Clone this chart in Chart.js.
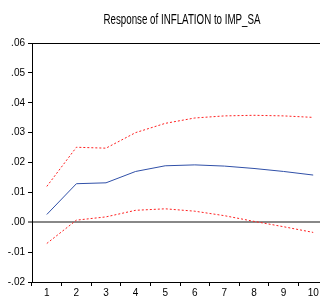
<!DOCTYPE html>
<html>
<head>
<meta charset="utf-8">
<script src="https://cdn.jsdelivr.net/npm/chart.js@4.4.0/dist/chart.umd.min.js"></script>
<style>
  html, body { margin: 0; padding: 0; background: #fff; }
  #wrap { width: 320px; height: 298px; overflow: hidden; position: relative; }
  #wrap canvas { position: absolute; left: 0; top: 0; }
</style>
</head>
<body>
<div id="wrap"><canvas id="myChart" width="340" height="298"></canvas></div>
<script>
// periods after the shock
var periods = ['1', '2', '3', '4', '5', '6', '7', '8', '9', '10'];
// impulse response and +/- 2 S.E. bands
var response = [0.0026, 0.0129, 0.0132, 0.0170, 0.0189, 0.0192, 0.0188, 0.0180, 0.0170, 0.0158];
var upperBand = [0.0120, 0.0251, 0.0248, 0.0300, 0.0331, 0.0349, 0.0356, 0.0358, 0.0356, 0.0351];
var lowerBand = [-0.0071, 0.0007, 0.0018, 0.0040, 0.0045, 0.0037, 0.0022, 0.0003, -0.0015, -0.0034];
var yTicks = [0.06, 0.05, 0.04, 0.03, 0.02, 0.01, 0.00, -0.01, -0.02];
var titleText = 'Response of INFLATION to IMP_SA';

var narrow = '"Liberation Sans Narrow", "Arial Narrow", "Liberation Sans", Arial, sans-serif';

// title centred over the plot, squeezed like the original
var titlePlugin = {
  id: 'eviewsTitle',
  afterDraw: function(chart) {
    var c = chart.ctx;
    c.save();
    c.font = '14px ' + narrow;
    c.fillStyle = '#000';
    c.textBaseline = 'middle';
    c.textAlign = 'center';
    var w = c.measureText(titleText).width;
    var sx = Math.min(1, 157 / w);
    c.translate(182, 20);
    c.scale(sx, 1);
    c.fillText(titleText, 0, 0);
    c.restore();
  }
};

var ctx = document.getElementById('myChart').getContext('2d');
var chart = new Chart(ctx, {
  type: 'line',
  data: {
    labels: periods,
    datasets: [{
      label: 'response',
      data: response,
      borderColor: '#3050a8',
      borderWidth: 1,
      pointRadius: 0,
      tension: 0
    }, {
      label: 'upper',
      data: upperBand,
      borderColor: '#ff2020',
      borderWidth: 1,
      borderDash: [2, 2],
      pointRadius: 0,
      tension: 0
    }, {
      label: 'lower',
      data: lowerBand,
      borderColor: '#ff2020',
      borderWidth: 1,
      borderDash: [2, 2],
      pointRadius: 0,
      tension: 0
    }]
  },
  plugins: [titlePlugin],
  options: {
    responsive: false,
    animation: false,
    layout: { padding: { top: 43, right: 12, bottom: 0, left: 0 } },
    plugins: {
      legend: { display: false },
      title: { display: false },
      tooltip: { enabled: false }
    },
    scales: {
      x: {
        offset: true,
        border: { color: '#000', width: 1 },
        grid: {
          offset: true,
          drawOnChartArea: false,
          tickLength: 4,
          tickColor: '#000',
          tickWidth: 1
        },
        ticks: {
          color: '#000',
          font: { family: narrow, size: 10 },
          padding: 1,
          maxRotation: 0
        },
        afterFit: function(axis) { axis.height = 16; }
      },
      y: {
        min: -0.02,
        max: 0.06,
        afterBuildTicks: function(axis) {
          axis.ticks = yTicks.map(function(v) { return { value: v }; });
        },
        border: { color: '#000', width: 1 },
        grid: {
          color: function(c) {
            if (Math.abs(c.tick.value) < 1e-9) return '#888888';
            if (Math.abs(c.tick.value - 0.06) < 1e-9) return '#000';
            return 'rgba(0,0,0,0)';
          },
          lineWidth: function(c) {
            return Math.abs(c.tick.value) < 1e-9 ? 2 : 1;
          },
          tickLength: 4,
          tickColor: '#000',
          tickWidth: 1
        },
        ticks: {
          color: '#000',
          font: { family: narrow, size: 10 },
          padding: 3,
          callback: function(v) {
            var s = Math.abs(v).toFixed(2).replace(/^0/, '');
            return v < -1e-9 ? '-' + s : s;
          }
        },
        afterFit: function(axis) { axis.width = 32; }
      }
    }
  }
});
</script>
</body>
</html>
